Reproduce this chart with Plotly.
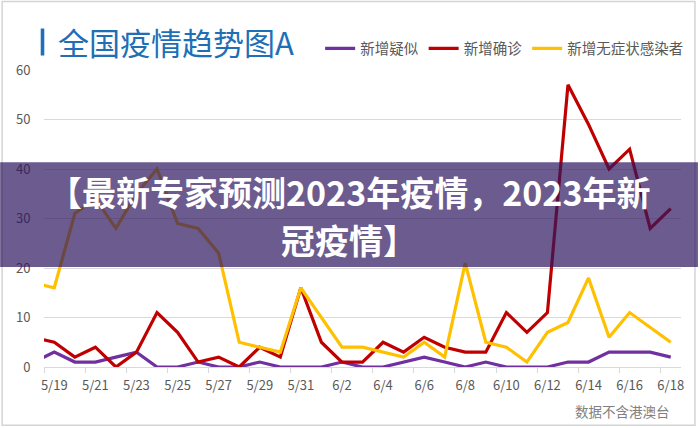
import plotly.graph_objects as go

# ---------------- data ----------------
dates = ["5/18", "5/19", "5/20", "5/21", "5/22", "5/23", "5/24", "5/25", "5/26", "5/27",
         "5/28", "5/29", "5/30", "5/31", "6/1", "6/2", "6/3", "6/4", "6/5", "6/6",
         "6/7", "6/8", "6/9", "6/10", "6/11", "6/12", "6/13", "6/14", "6/15", "6/16",
         "6/17", "6/18"]
suspected = [1, 3, 1, 1, 2, 3, 0, 0, 1, 0, 0, 1, 0, 0, 0, 1, 0, 0, 1, 2,
             1, 0, 1, 0, 0, 0, 1, 1, 3, 3, 3, 2]
confirmed = [6, 5, 2, 4, 0, 3, 11, 7, 1, 2, 0, 4, 2, 16, 5, 1, 1, 5, 3, 6,
             4, 3, 3, 11, 7, 11, 57, 49, 40, 44, 28, 32]
asymptomatic = [17, 16, 31, 34, 28, 35, 40, 29, 28, 23, 5, 4, 3, 16, 10, 4, 4, 3, 2, 5,
                2, 21, 5, 4, 1, 7, 9, 18, 6, 11, 8, 5]
series_names = ["新增疑似", "新增确诊", "新增无症状感染者"]
series_colors = ["#7030A0", "#C00000", "#FFC000"]
tick_labels = dates[1::2]
title_text = "全国疫情趋势图A"
banner_line1 = "【最新专家预测2023年疫情，2023年新"
banner_line2 = "冠疫情】"
note_text = "数据不含港澳台"

# ---------------- layout geometry ----------------
W, H = 700, 428
ML, MR, MT, MB = 44, 17, 69.5, 61.3
PW, PH = W - ML - MR, H - MT - MB


def px(x):
    return (x - ML) / PW


def py(y):
    return (H - MB - y) / PH


xs = list(range(len(dates)))
fig = go.Figure()
for name, vals, col in zip(series_names, [suspected, confirmed, asymptomatic], series_colors):
    fig.add_trace(go.Scatter(x=xs, y=vals, mode="lines", name=name,
                             line=dict(color=col, width=3.2), hoverinfo="skip"))

label_pos = xs[1::2]
fig.update_layout(
    width=W, height=H,
    margin=dict(l=ML, r=MR, t=MT, b=MB),
    paper_bgcolor="white", plot_bgcolor="white",
    font=dict(family="Noto Sans CJK SC", color="#595959"),
    showlegend=True,
    legend=dict(orientation="h", x=px(321), xanchor="left", y=py(48), yanchor="middle",
                font=dict(size=14.5, color="#595959"), bgcolor="rgba(0,0,0,0)",
                itemwidth=30, traceorder="normal"),
    xaxis=dict(range=[0.5, len(dates) - 0.5], tickmode="array", tickvals=label_pos,
               ticktext=tick_labels, ticks="outside", ticklen=6, tickcolor="rgba(0,0,0,0)",
               showgrid=False, zeroline=False, showline=True, linecolor="#d9d9d9", linewidth=1,
               tickfont=dict(size=13, color="#595959"), automargin=False,
               minor=dict(tickmode="array", tickvals=[v - 0.5 for v in label_pos],
                          ticks="outside", ticklen=5, tickcolor="#d9d9d9", tickwidth=1,
                          showgrid=False)),
    yaxis=dict(range=[0, 60], dtick=10, showgrid=True, gridcolor="#d9d9d9", gridwidth=1,
               zeroline=False, showline=False, ticks="outside", ticklen=10, automargin=False,
               tickcolor="rgba(0,0,0,0)", tickfont=dict(size=13, color="#595959")),
)

shapes = [
    # outer frame
    dict(type="rect", xref="paper", yref="paper", x0=px(2), x1=px(697), y0=py(425), y1=py(1),
         line=dict(color="#d4d4d4", width=1.5), fillcolor="rgba(0,0,0,0)", layer="below"),
    # title bar
    dict(type="rect", xref="paper", yref="paper", x0=px(40.7), x1=px(44.3), y0=py(55), y1=py(28),
         line=dict(width=0), fillcolor="#1E6FB5"),
    # translucent banner
    dict(type="rect", xref="paper", yref="paper", x0=px(0), x1=px(700), y0=py(266.7), y1=py(161.7),
         line=dict(width=0), fillcolor="rgba(45,22,94,0.70)", layer="above"),
]
fig.update_layout(shapes=shapes)

fig.add_annotation(text=title_text, xref="paper", yref="paper", x=px(56), y=py(41),
                   xanchor="left", yanchor="middle", showarrow=False,
                   font=dict(size=31, color="#1E6FB5", family="Noto Sans CJK SC"))
banner_font = dict(size=34, color="white", family="Noto Sans CJK SC", weight="bold")
fig.add_annotation(text=banner_line1, xref="paper", yref="paper", x=px(350), y=py(191.5),
                   xanchor="center", yanchor="middle", showarrow=False, font=banner_font,
                   borderpad=0, borderwidth=0)
fig.add_annotation(text=banner_line2, xref="paper", yref="paper", x=px(350), y=py(239),
                   xanchor="center", yanchor="middle", showarrow=False, font=banner_font,
                   borderpad=0, borderwidth=0)
fig.add_annotation(text=note_text, xref="paper", yref="paper", x=px(674), y=py(411),
                   xanchor="right", yanchor="middle", showarrow=False,
                   font=dict(size=13.5, color="#808080", family="Noto Sans CJK SC"))

fig.write_html("out.html", config={"displayModeBar": False},
               post_script="document.body.style.margin='0';document.body.style.padding='0';")
